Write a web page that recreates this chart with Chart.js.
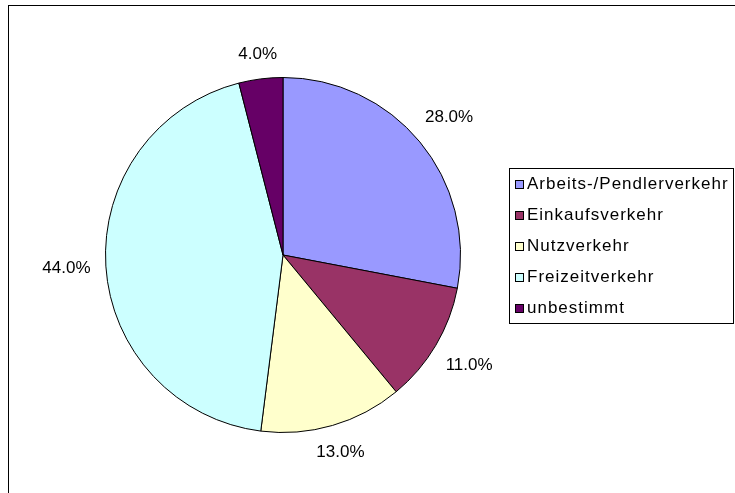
<!DOCTYPE html>
<html>
<head>
<meta charset="utf-8">
<script src="https://cdn.jsdelivr.net/npm/chart.js@4/dist/chart.umd.min.js"></script>
<style>
  html, body { margin: 0; padding: 0; background: #ffffff; }
  #wrap { width: 735px; height: 493px; }
</style>
</head>
<body>
<div id="wrap"><canvas id="c" width="735" height="493"></canvas></div>
<script>
const categories = ["Arbeits-/Pendlerverkehr", "Einkaufsverkehr", "Nutzverkehr", "Freizeitverkehr", "unbestimmt"];
const shares = [28.0, 11.0, 13.0, 44.0, 4.0];
const sliceColors = ["#9999FF", "#993366", "#FFFFCC", "#CCFFFF", "#660066"];

const FONT = '"Liberation Sans", Arial, sans-serif';

const framePlugin = {
  id: 'frame',
  beforeDraw(chart) {
    const ctx = chart.ctx;
    ctx.save();
    ctx.fillStyle = '#ffffff';
    ctx.fillRect(0, 0, chart.width, chart.height);
    ctx.strokeStyle = '#000000';
    ctx.lineWidth = 1;
    ctx.strokeRect(8.5, 5.5, 900, 700);
    ctx.restore();
  }
};

const labelPlugin = {
  id: 'sliceLabels',
  afterDatasetsDraw(chart) {
    const ctx = chart.ctx;
    const meta = chart.getDatasetMeta(0);
    ctx.save();
    ctx.font = '17px ' + FONT;
    ctx.fillStyle = '#000000';
    ctx.textAlign = 'center';
    ctx.textBaseline = 'middle';
    meta.data.forEach((arc, i) => {
      const p = arc.getProps(['x', 'y', 'startAngle', 'endAngle', 'outerRadius'], true);
      const mid = (p.startAngle + p.endAngle) / 2;
      const txt = shares[i].toFixed(1) + '%';
      const hw = ctx.measureText(txt).width / 2;
      const hh = 7;
      const c = Math.cos(mid), s = Math.sin(mid);
      const d = p.outerRadius + 15 + hw * Math.abs(c) + hh * Math.abs(s);
      ctx.fillText(txt, p.x + d * c, p.y + d * s);
    });
    ctx.restore();
  }
};

const legendPlugin = {
  id: 'boxLegend',
  afterDraw(chart) {
    const ctx = chart.ctx;
    const bx = 509, by = 168, bw = 224, bh = 155;
    ctx.save();
    ctx.strokeStyle = '#000000';
    ctx.lineWidth = 1;
    ctx.strokeRect(bx + 0.5, by + 0.5, bw, bh);
    ctx.font = '17px ' + FONT;
    ctx.textBaseline = 'middle';
    ctx.textAlign = 'left';
    try { ctx.letterSpacing = '1px'; } catch (e) {}
    categories.forEach((lab, i) => {
      const cy = 184 + i * 31;
      ctx.fillStyle = sliceColors[i];
      ctx.fillRect(515, cy - 4, 9, 9);
      ctx.strokeStyle = '#000000';
      ctx.strokeRect(515.5, cy - 3.5, 8, 8);
      ctx.fillStyle = '#000000';
      ctx.fillText(lab, 527, cy);
    });
    ctx.restore();
  }
};

new Chart(document.getElementById('c'), {
  type: 'pie',
  data: {
    labels: categories,
    datasets: [{
      data: shares,
      backgroundColor: sliceColors,
      borderColor: '#000000',
      borderWidth: 1
    }]
  },
  options: {
    responsive: false,
    animation: false,
    devicePixelRatio: 1,
    layout: { padding: { left: 105, right: 274, top: 77, bottom: 60 } },
    plugins: {
      legend: { display: false },
      tooltip: { enabled: false }
    }
  },
  plugins: [framePlugin, labelPlugin, legendPlugin]
});
</script>
</body>
</html>
